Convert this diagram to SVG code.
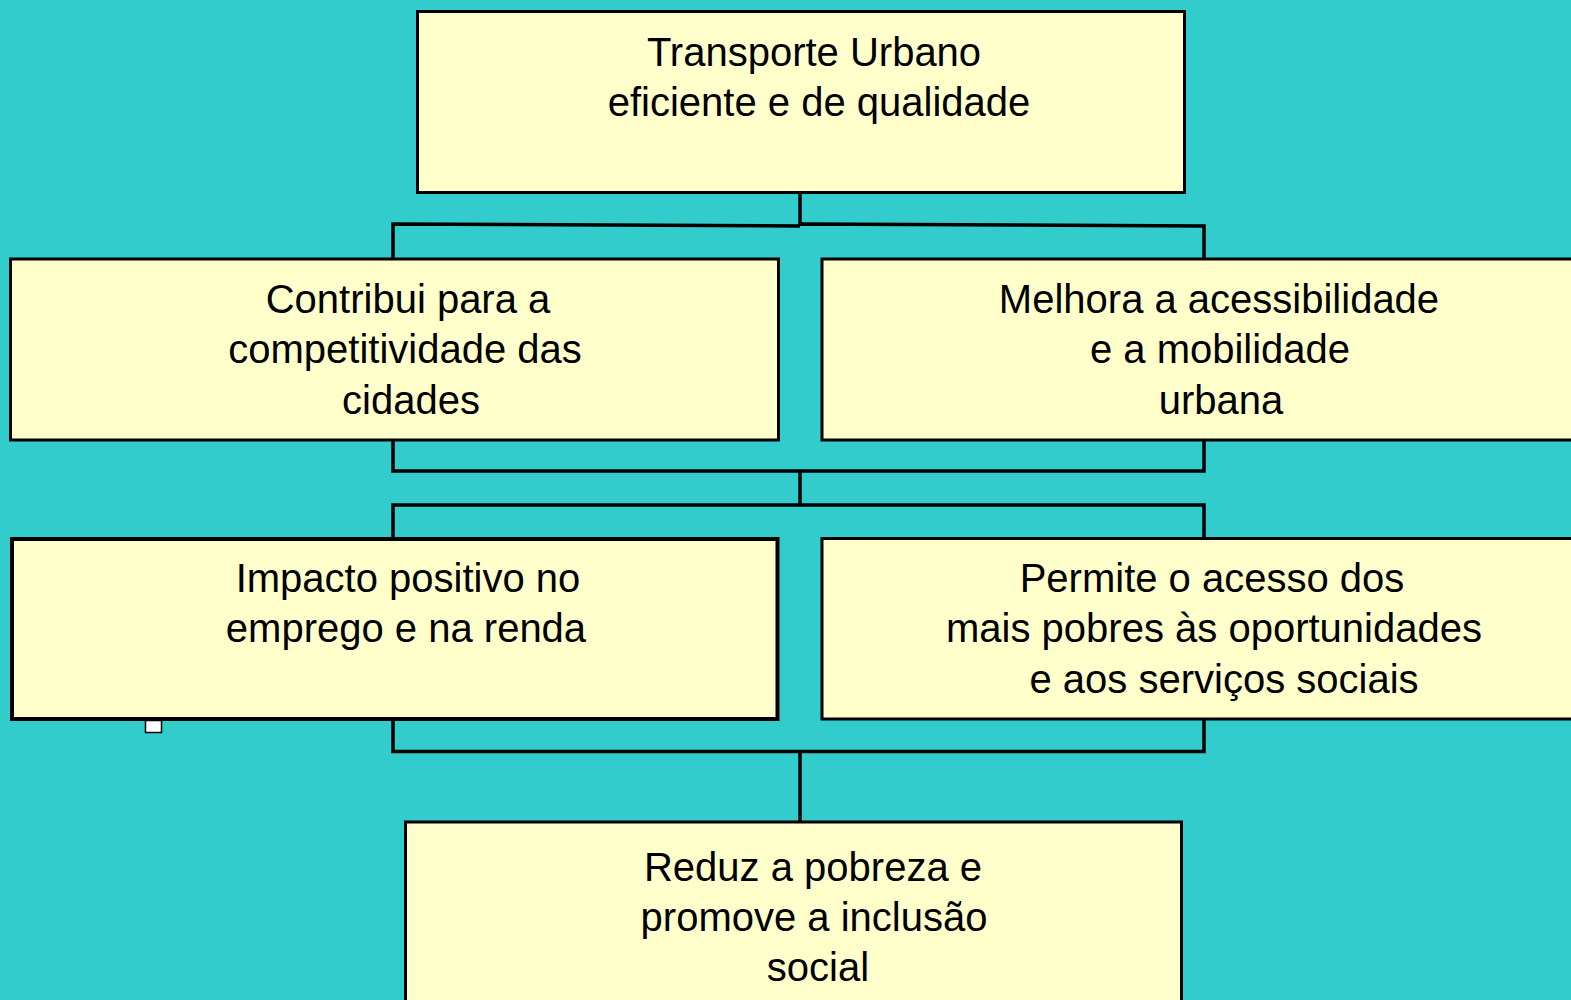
<svg xmlns="http://www.w3.org/2000/svg" width="1571" height="1000" viewBox="0 0 1571 1000">
<style>
.box{fill:#FFFFCC;stroke:#000;stroke-width:3}
.thick{stroke-width:4}
.t{font-family:"Liberation Sans",Arial,sans-serif;font-size:40px;fill:#000;text-anchor:middle}
.c{fill:none;stroke:#000;stroke-width:3.5;stroke-linejoin:miter}
</style>
<rect x="0" y="0" width="1571" height="1000" fill="#33CCCC"/>
<g id="connectors">
<path class="c" d="M800,193 V225"/>
<path class="c" d="M393,259 V224 L800,226 M800,224 L1204,226 V259"/>
<path class="c" d="M393,441 V471 H1204 V441"/>
<path class="c" d="M800,471 V505"/>
<path class="c" d="M393,538 V505 H1204 V538"/>
<path class="c" d="M393,719 V751.5 H1204 V719"/>
<path class="c" d="M800,751.5 V822"/>
</g>
<g id="n1">
<rect class="box" x="417.5" y="11.5" width="767" height="181"/>
<text class="t" x="814" y="66">Transporte Urbano</text>
<text class="t" x="819" y="116">eficiente e de qualidade</text>
</g>
<g id="n2">
<rect class="box" x="10.5" y="259" width="768" height="181"/>
<text class="t" x="408" y="313">Contribui para a</text>
<text class="t" x="405" y="363">competitividade das</text>
<text class="t" x="411" y="414">cidades</text>
</g>
<g id="n3">
<rect class="box" x="822" y="259" width="770" height="181"/>
<text class="t" x="1219" y="313">Melhora a acessibilidade</text>
<text class="t" x="1220" y="363">e a mobilidade</text>
<text class="t" x="1221" y="414">urbana</text>
</g>
<g id="n4">
<rect class="box thick" x="12" y="539" width="765.5" height="180"/>
<text class="t" x="408" y="592">Impacto positivo no</text>
<text class="t" x="406" y="642">emprego e na renda</text>
</g>
<g id="n5">
<rect class="box" x="822" y="538.5" width="770" height="180.5"/>
<text class="t" x="1212" y="592">Permite o acesso dos</text>
<text class="t" x="1214" y="642">mais pobres às oportunidades</text>
<text class="t" x="1224" y="693">e aos serviços sociais</text>
</g>
<g id="n6">
<rect class="box" x="405.5" y="822" width="776" height="200"/>
<text class="t" x="813" y="881">Reduz a pobreza e</text>
<text class="t" x="814" y="931">promove a inclusão</text>
<text class="t" x="818" y="981">social</text>
</g>
<rect x="145.5" y="720.5" width="16" height="12" fill="#fff" stroke="#000" stroke-width="1.5"/>
</svg>
